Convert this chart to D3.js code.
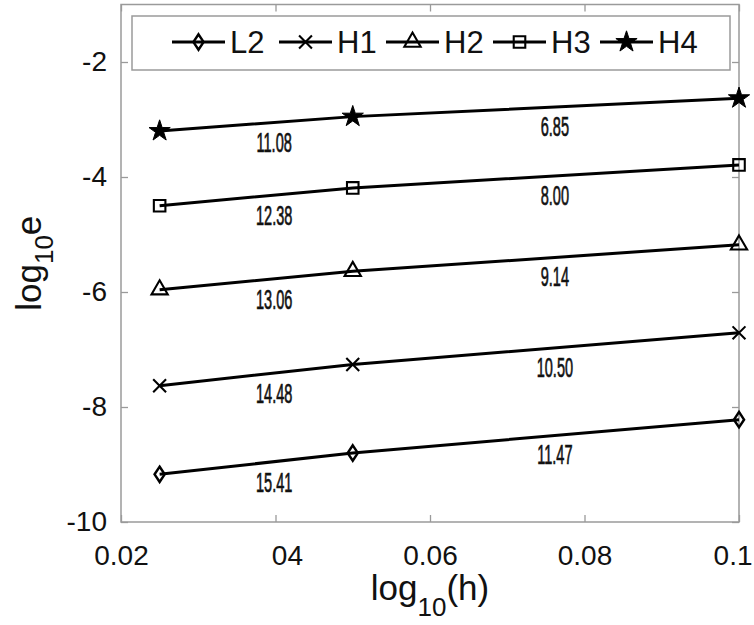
<!DOCTYPE html>
<html>
<head>
<meta charset="utf-8">
<script src="https://d3js.org/d3.v7.min.js"></script>
<style>
  body { margin: 0; background: #fff; }
  svg { display: block; font-family: "Liberation Sans", Arial, sans-serif; }
</style>
</head>
<body>
<script>
// data
const hValues = [0.025, 0.05, 0.1];
const seriesNames = ["L2", "H1", "H2", "H3", "H4"];
const errL2 = [-9.17, -8.80, -8.22];
const errH1 = [-7.63, -7.26, -6.71];
const errH2 = [-5.96, -5.64, -5.18];
const errH3 = [-4.50, -4.19, -3.79];
const errH4 = [-3.20, -2.95, -2.63];
const rateL2 = ["15.41", "11.47"];
const rateH1 = ["14.48", "10.50"];
const rateH2 = ["13.06", "9.14"];
const rateH3 = ["12.38", "8.00"];
const rateH4 = ["11.08", "6.85"];
const xTicks = [0.02, 0.04, 0.06, 0.08, 0.1];
const xTickLabels = ["0.02", "04", "0.06", "0.08", "0.1"];
const yTicks = [-10, -8, -6, -4, -2];
const yTickLabels = ["-10", "-8", "-6", "-4", "-2"];

const errs = [errL2, errH1, errH2, errH3, errH4];
const rates = [rateL2, rateH1, rateH2, rateH3, rateH4];

const width = 754, height = 625;
const pLeft = 121, pRight = 739, pTop = 4.5, pBottom = 522;

const svg = d3.select("body").append("svg")
    .attr("width", width)
    .attr("height", height);

const x = d3.scaleLinear().domain([0.02, 0.1]).range([pLeft, pRight]);
const y = d3.scaleLinear().domain([-10, -1]).range([pBottom, pTop]);

const grey = "#9a9a9a";

// axes, ticks pointing inwards on all four sides
const xAxis = svg.append("g")
    .attr("transform", `translate(0,${pBottom})`)
    .call(d3.axisBottom(x).tickValues(xTicks).tickSizeInner(-7).tickSizeOuter(0)
        .tickPadding(23).tickFormat((d, i) => xTickLabels[i]));
svg.append("g")
    .attr("transform", `translate(0,${pTop})`)
    .call(d3.axisTop(x).tickValues(xTicks).tickSizeInner(-7).tickSizeOuter(0).tickFormat(""));
svg.append("g")
    .attr("transform", `translate(${pLeft},0)`)
    .call(d3.axisLeft(y).tickValues(yTicks).tickSizeInner(-7).tickSizeOuter(0).tickPadding(14)
        .tickFormat((d, i) => yTickLabels[i]));
svg.append("g")
    .attr("transform", `translate(${pRight},0)`)
    .call(d3.axisRight(y).tickValues(yTicks).tickSizeInner(-7).tickSizeOuter(0).tickFormat(""));

svg.selectAll(".domain").remove();
svg.selectAll(".tick line").attr("stroke", grey).attr("stroke-width", 1.3);
svg.selectAll(".tick text")
    .attr("font-size", 28)
    .attr("font-family", "Liberation Sans, Arial, sans-serif")
    .attr("fill", "#111");
// the second label has lost its "0." in the original; the last one sits at the edge
xAxis.selectAll(".tick text")
    .filter((d, i) => !xTickLabels[i].includes("."))
    .attr("text-anchor", "end")
    .attr("x", 27);
xAxis.selectAll(".tick text")
    .filter((d, i) => i === xTicks.length - 1)
    .attr("text-anchor", "end")
    .attr("x", 13);

svg.append("rect")
    .attr("x", pLeft).attr("y", pTop)
    .attr("width", pRight - pLeft).attr("height", pBottom - pTop)
    .attr("fill", "none").attr("stroke", grey).attr("stroke-width", 1.5);

// axis titles
const xt = svg.append("text")
    .attr("x", (pLeft + pRight) / 2).attr("y", 600)
    .attr("text-anchor", "middle")
    .attr("font-size", 35).attr("fill", "#111");
xt.append("tspan").text("log");
xt.append("tspan").attr("font-size", 26).attr("dy", 16).text("10");
xt.append("tspan").attr("dy", -16).text("(h)");

const yt = svg.append("text")
    .attr("transform", `translate(41,${(pTop + pBottom) / 2}) rotate(-90)`)
    .attr("text-anchor", "middle")
    .attr("font-size", 35).attr("fill", "#111");
yt.append("tspan").text("log");
yt.append("tspan").attr("font-size", 26).attr("dy", 12).text("10");
yt.append("tspan").attr("dy", -12).text("e");

// markers
const markers = [
    { type: d3.symbolDiamond2, size: 150, sx: 0.66, fill: "none" },
    { type: d3.symbolTimes, size: 110, sx: 1, fill: "none" },
    { type: d3.symbolTriangle2, size: 190, sx: 1, fill: "none" },
    { type: d3.symbolSquare2, size: 170, sx: 1, fill: "none" },
    { type: d3.symbolStar, size: 140, sx: 1, fill: "#000" }
];

function drawMarker(g, i, cx, cy) {
    const m = markers[i];
    g.append("path")
        .attr("d", d3.symbol().type(m.type).size(m.size)())
        .attr("transform", `translate(${cx},${cy}) scale(${m.sx},1)`)
        .attr("fill", m.fill)
        .attr("stroke", "#000")
        .attr("stroke-width", m.fill === "none" ? 2.6 / m.sx * 0.8 : 1);
}

const line = d3.line().x(d => x(d[0])).y(d => y(d[1]));
const plot = svg.append("g");

errs.forEach((e, i) => {
    const pts = hValues.map((h, k) => [h, e[k]]);
    plot.append("path")
        .attr("d", line(pts))
        .attr("fill", "none")
        .attr("stroke", "#000")
        .attr("stroke-width", 3);
    pts.forEach(p => drawMarker(plot, i, x(p[0]), y(p[1])));

    // convergence rate labels under each segment
    rates[i].forEach((r, k) => {
        const mx = (x(pts[k][0]) + x(pts[k + 1][0])) / 2 + (k === 0 ? 18 : 9);
        const my = (y(pts[k][1]) + y(pts[k + 1][1])) / 2 + 18;
        plot.append("text")
            .attr("transform", `translate(${mx},${my}) scale(0.52,1)`)
            .attr("text-anchor", "middle")
            .attr("dy", "0.36em")
            .attr("font-size", 28)
            .attr("fill", "#111")
            .attr("stroke", "#111")
            .attr("stroke-width", 0.7)
            .text(r);
    });
});

// legend
const legend = svg.append("g");
legend.append("rect")
    .attr("x", 132).attr("y", 16).attr("width", 598).attr("height", 54)
    .attr("fill", "#fff").attr("stroke", grey).attr("stroke-width", 1.5);

const legendX = d3.scalePoint().domain(seriesNames).range([172, 600]);
seriesNames.forEach((name, i) => {
    const lx = legendX(name);
    legend.append("line")
        .attr("x1", lx).attr("x2", lx + 53)
        .attr("y1", 42).attr("y2", 42)
        .attr("stroke", "#000").attr("stroke-width", 3);
    drawMarker(legend, i, lx + 26.5, 42);
    legend.append("text")
        .attr("x", lx + 58).attr("y", 53)
        .attr("font-size", 31)
        .attr("fill", "#111")
        .text(name);
});
</script>
</body>
</html>
